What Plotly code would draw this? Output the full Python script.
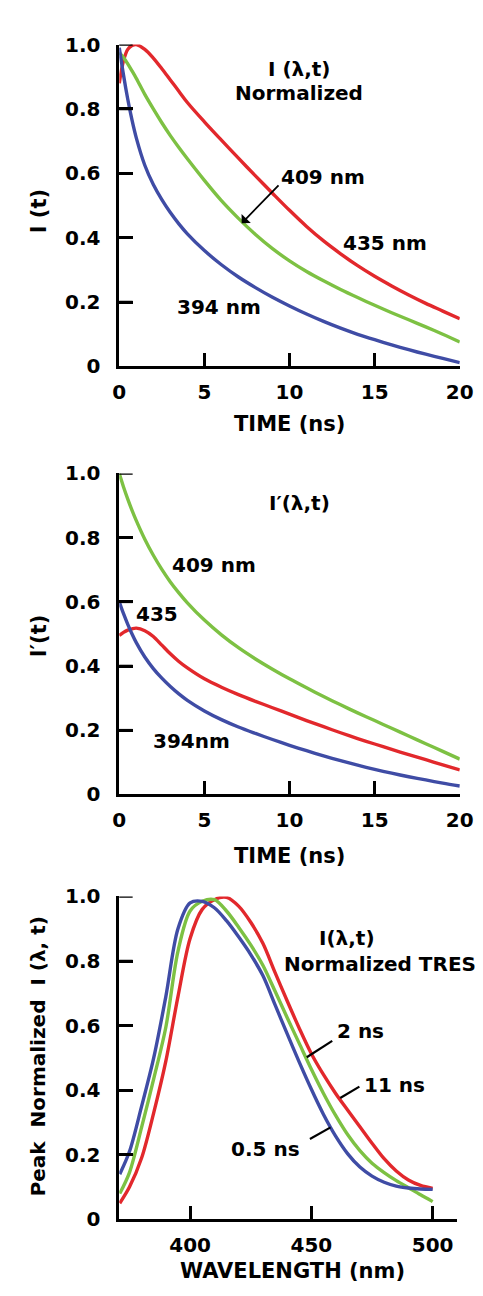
import plotly.graph_objects as go

# ---------------- data ----------------
time_ns = [0, 0.25, 0.5, 0.75, 1, 1.5, 2, 2.5, 3, 3.5, 4, 5, 6, 7, 8, 9, 10,
           11, 12, 13, 14, 15, 16, 17, 18, 19, 20]

# Panel 1: normalized decays I(lambda, t)
norm_394 = [0.99, 0.905, 0.83, 0.765, 0.71, 0.625, 0.565, 0.518, 0.478, 0.443, 0.412,
            0.36, 0.316, 0.278, 0.245, 0.215, 0.188, 0.163, 0.14, 0.119, 0.1,
            0.083, 0.067, 0.052, 0.038, 0.025, 0.012]
norm_409 = [0.975, 0.96, 0.94, 0.918, 0.895, 0.845, 0.8, 0.757, 0.717, 0.68, 0.645,
            0.578, 0.515, 0.46, 0.41, 0.366, 0.328, 0.295, 0.266, 0.239, 0.214,
            0.19, 0.167, 0.145, 0.123, 0.1, 0.076]
norm_435 = [0.88, 0.95, 0.985, 0.997, 1.0, 0.985, 0.958, 0.925, 0.89, 0.855, 0.82,
            0.76, 0.703, 0.647, 0.592, 0.538, 0.485, 0.435, 0.39, 0.35, 0.313,
            0.28, 0.25, 0.222, 0.196, 0.172, 0.148]

# Panel 2: I'(lambda, t)
prime_394 = [0.6, 0.563, 0.53, 0.5, 0.473, 0.428, 0.392, 0.362, 0.336, 0.313, 0.293,
             0.26, 0.233, 0.21, 0.19, 0.171, 0.153, 0.136, 0.12, 0.105, 0.091,
             0.078, 0.066, 0.055, 0.045, 0.035, 0.026]
prime_409 = [1.0, 0.958, 0.92, 0.885, 0.853, 0.795, 0.745, 0.701, 0.662, 0.628, 0.597,
             0.543, 0.497, 0.457, 0.422, 0.39, 0.36, 0.332, 0.305, 0.279, 0.254,
             0.23, 0.206, 0.182, 0.158, 0.134, 0.11]
prime_435 = [0.495, 0.505, 0.512, 0.516, 0.518, 0.51, 0.492, 0.465, 0.438, 0.414, 0.394,
             0.36, 0.334, 0.311, 0.29, 0.27, 0.25, 0.23, 0.211, 0.192, 0.174,
             0.157, 0.14, 0.124, 0.108, 0.092, 0.076]

# Panel 3: peak-normalized TRES
wavelength_nm = [371, 375, 380, 385, 390, 395, 400, 405, 410, 415, 420, 425, 430,
                 435, 440, 445, 450, 455, 460, 465, 470, 475, 480, 485, 490, 495, 500]
tres_05ns = [0.14, 0.21, 0.35, 0.50, 0.69, 0.90, 0.98, 0.985, 0.965, 0.925, 0.875,
             0.82, 0.755, 0.665, 0.575, 0.487, 0.403, 0.325, 0.258, 0.203, 0.162,
             0.134, 0.115, 0.103, 0.097, 0.094, 0.093]
tres_2ns = [0.08, 0.145, 0.285, 0.435, 0.595, 0.83, 0.955, 0.985, 0.99, 0.955, 0.905,
            0.85, 0.787, 0.707, 0.625, 0.545, 0.465, 0.39, 0.322, 0.262, 0.213,
            0.174, 0.145, 0.12, 0.098, 0.076, 0.055]
tres_11ns = [0.05, 0.10, 0.19, 0.33, 0.49, 0.69, 0.87, 0.96, 0.99, 0.997, 0.97,
             0.92, 0.855, 0.765, 0.677, 0.592, 0.513, 0.448, 0.39, 0.338, 0.287,
             0.236, 0.188, 0.15, 0.122, 0.105, 0.096]

y_ticks = [0, 0.2, 0.4, 0.6, 0.8, 1.0]
y_tick_text = ["0", "0.2", "0.4", "0.6", "0.8", "1.0"]
t_ticks = [0, 5, 10, 15, 20]
wl_ticks = [400, 450, 500]

# ---------------- style ----------------
RED = "#E2282C"
GREEN = "#7DC143"
BLUE = "#3F4CA5"
FONT = "DejaVu Sans"
W = 483
H = 1296
LW = 3.4
TICKLEN = 14

fig = go.Figure()


def add(x, y, color, axn):
    fig.add_trace(go.Scatter(
        x=x, y=y, mode="lines",
        line=dict(color=color, width=LW, shape="spline", smoothing=0.9),
        xaxis="x" + axn, yaxis="y" + axn, cliponaxis=False, showlegend=False,
        hoverinfo="skip"))


add(time_ns, norm_435, RED, "")
add(time_ns, norm_409, GREEN, "")
add(time_ns, norm_394, BLUE, "")
add(time_ns, prime_409, GREEN, "2")
add(time_ns, prime_435, RED, "2")
add(time_ns, prime_394, BLUE, "2")
add(wavelength_nm, tres_11ns, RED, "3")
add(wavelength_nm, tres_2ns, GREEN, "3")
add(wavelength_nm, tres_05ns, BLUE, "3")


def px2paper(px, py):
    return px / W, 1 - py / H


tickfont = dict(family=FONT, size=20, color="black", weight="bold")
common_axis = dict(showline=True, linecolor="black", linewidth=2.6, mirror=False,
                   ticks="inside", ticklen=TICKLEN, tickwidth=2.6, tickcolor="black",
                   showgrid=False, zeroline=False, tickfont=tickfont, fixedrange=True,
                   layer="above traces")

xdom = [109 / W, 465 / W]
xdom3 = [109 / W, 462 / W]
dom1 = [1 - 353 / H, 1 - 25 / H]
dom2 = [1 - 789 / H, 1 - 462 / H]
dom3 = [1 - 1222 / H, 1 - 893 / H]

fig.update_layout(
    width=W, height=H, margin=dict(l=0, r=0, t=0, b=0),
    paper_bgcolor="white", plot_bgcolor="white",
    font=dict(family=FONT, color="black"),
    xaxis=dict(domain=xdom, range=[0, 20], tickvals=t_ticks, anchor="y",
               ticklabelstandoff=6, **common_axis),
    yaxis=dict(domain=dom1, range=[0, 1.0], tickvals=y_ticks, ticktext=y_tick_text,
               anchor="x", ticklabelstandoff=12, **common_axis),
    xaxis2=dict(domain=xdom, range=[0, 20], tickvals=t_ticks, anchor="y2",
                ticklabelstandoff=6, **common_axis),
    yaxis2=dict(domain=dom2, range=[0, 1.0], tickvals=y_ticks, ticktext=y_tick_text,
                anchor="x2", ticklabelstandoff=12, **common_axis),
    xaxis3=dict(domain=xdom3, range=[370.8, 510], tickvals=wl_ticks, anchor="y3",
                ticklabelstandoff=6, **common_axis),
    yaxis3=dict(domain=dom3, range=[0, 1.0], tickvals=y_ticks, ticktext=y_tick_text,
                anchor="x3", ticklabelstandoff=12, **common_axis),
)

# inward y tick marks, placed on each panel's own y scale
for axn, dom in [("", xdom), ("2", xdom), ("3", xdom3)]:
    frac = TICKLEN / ((dom[1] - dom[0]) * W)
    for v in y_ticks[1:]:
        fig.add_shape(type="line", xref="x" + axn + " domain", yref="y" + axn,
                      x0=0, x1=frac, y0=v, y1=v,
                      line=dict(color="black", width=2.6))

ann = []


def txt(text, x, y, ax, size=20, anchor="center"):
    ann.append(dict(text=text, x=x, y=y, xref="x" + ax, yref="y" + ax, showarrow=False,
                    xanchor=anchor, yanchor="middle",
                    font=dict(family=FONT, size=size, color="black", weight="bold")))


def ptxt(text, px, py, angle=0, size=21):
    x, y = px2paper(px, py)
    ann.append(dict(text=text, x=x, y=y, xref="paper", yref="paper", showarrow=False,
                    xanchor="center", yanchor="middle", textangle=angle,
                    font=dict(family=FONT, size=size, color="black", weight="bold")))


# panel 1
txt("I (λ,t)", 10.56, 0.924, "")
txt("Normalized", 10.56, 0.851, "")
txt("409 nm", 11.97, 0.588, "")
txt("435 nm", 15.6, 0.384, "")
txt("394 nm", 5.84, 0.186, "")
ann.append(dict(text="", x=7.19, y=0.445, ax=9.44, ay=0.567, xref="x", yref="y",
                axref="x", ayref="y", showarrow=True, arrowhead=1, arrowsize=1.2,
                arrowwidth=1.8, arrowcolor="black"))
# panel 2
txt("I′(λ,t)", 10.56, 0.909, "2")
txt("409 nm", 5.58, 0.716, "2")
txt("435", 2.21, 0.563, "2")
txt("394nm", 4.27, 0.165, "2")
# panel 3
txt("I(λ,t)", 464.5, 0.872, "3")
txt("Normalized TRES", 478.3, 0.791, "3")
txt("2 ns", 470.4, 0.584, "3")
txt("11 ns", 484.2, 0.416, "3")
txt("0.5 ns", 431.0, 0.219, "3")

# axis titles
ptxt("I (t)", 25, 195, angle=-90)
ptxt("TIME (ns)", 287, 412)
ptxt("I′(t)", 25, 627, angle=-90)
ptxt("TIME (ns)", 287, 852)
ptxt("Peak  Normalized  I (λ, t)", 25, 1056, angle=-90, size=20)
ptxt("WAVELENGTH (nm)", 290, 1275)

fig.update_layout(annotations=ann)

# leader lines for TRES labels
for (x0, y0, x1, y1) in [(448.1, 0.502, 458.6, 0.553),
                         (461.9, 0.376, 469.8, 0.411),
                         (449.4, 0.249, 457.9, 0.285)]:
    fig.add_shape(type="line", x0=x0, y0=y0, x1=x1, y1=y1, xref="x3", yref="y3",
                  line=dict(color="black", width=2.2))

fig.write_html("out.html")
